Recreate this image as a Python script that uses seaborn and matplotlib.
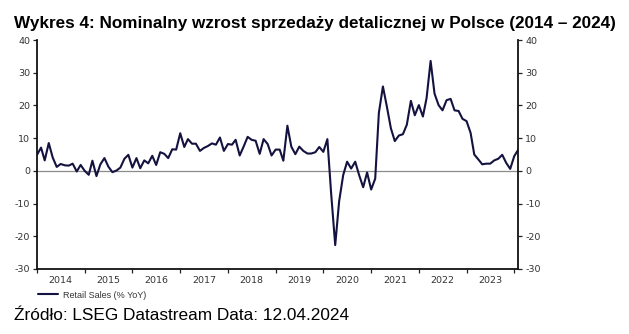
import numpy as np
import pandas as pd
import matplotlib
matplotlib.use("Agg")
import matplotlib.pyplot as plt
import matplotlib.dates as mdates
import seaborn as sns

# ---- data: Retail Sales (% YoY), monthly, Jan 2014 - Feb 2024 ----
vals_2014 = [4.9, 7.1, 3.2, 8.5, 4.1, 1.2, 2.1, 1.7, 1.6, 2.2, -0.2, 1.8]
vals_2015 = [0.0, -1.2, 3.1, -1.6, 2.0, 3.9, 1.3, -0.4, 0.1, 1.0, 3.7, 4.9]
vals_2016 = [1.0, 3.9, 0.8, 3.2, 2.3, 4.6, 1.8, 5.7, 5.2, 3.9, 6.6, 6.5]
vals_2017 = [11.5, 7.3, 9.7, 8.3, 8.3, 6.1, 7.0, 7.6, 8.4, 8.0, 10.2, 6.1]
vals_2018 = [8.2, 8.0, 9.5, 4.7, 7.4, 10.4, 9.5, 9.2, 5.2, 9.7, 8.2, 4.7]
vals_2019 = [6.5, 6.5, 3.1, 13.8, 7.4, 5.1, 7.4, 6.1, 5.3, 5.3, 5.7, 7.3]
vals_2020 = [5.8, 9.7, -7.0, -22.7, -9.3, -1.3, 2.8, 0.7, 2.8, -1.3, -5.0, -0.5]
vals_2021 = [-5.7, -2.4, 17.7, 25.8, 19.7, 13.0, 9.1, 10.8, 11.2, 14.1, 21.4, 17.0]
vals_2022 = [20.1, 16.6, 22.2, 33.6, 23.6, 20.1, 18.5, 21.6, 22.0, 18.5, 18.3, 15.9]
vals_2023 = [15.2, 11.6, 5.0, 3.5, 2.0, 2.2, 2.2, 3.2, 3.7, 4.9, 2.4, 0.6]
vals_2024 = [4.5, 6.5]

start_month = "2014-01-01"
series_name = "Retail Sales (% YoY)"
year_labels = ["2014", "2015", "2016", "2017", "2018", "2019",
               "2020", "2021", "2022", "2023"]
y_ticks = [-30, -20, -10, 0, 10, 20, 30, 40]

title = "Wykres 4: Nominalny wzrost sprzedaży detalicznej w Polsce (2014 – 2024)"
source = "Źródło: LSEG Datastream Data: 12.04.2024"

values = (vals_2014 + vals_2015 + vals_2016 + vals_2017 + vals_2018 +
          vals_2019 + vals_2020 + vals_2021 + vals_2022 + vals_2023 + vals_2024)
dates = pd.date_range(start_month, periods=len(values), freq="MS")
df = pd.DataFrame({"date": dates, "value": values})

# ---- figure ----
sns.set_theme(style="white")
plt.rcParams["font.family"] = ["DejaVu Sans"]
plt.rcParams["axes.unicode_minus"] = False

fig = plt.figure(figsize=(6.29, 3.34), dpi=100)
ax = fig.add_axes([37 / 629, 1 - 269 / 334, (518.3 - 37) / 629, (269 - 40) / 334])

line_color = "#14123f"
sns.lineplot(data=df, x="date", y="value", ax=ax, color=line_color,
             linewidth=1.5, label=series_name, legend=False)
ax.axhline(0, color="#8c8c8c", linewidth=0.9, zorder=0)

ax.set_xlim(dates[0], dates[-1])
ax.set_ylim(-30, 40)
ax.set_xlabel("")
ax.set_ylabel("")

# x axis: ticks at year boundaries, labels mid-year
year_starts = pd.date_range("2014-01-01", "2024-01-01", freq="YS")
ax.set_xticks(year_starts)
ax.set_xticklabels([])
mid_years = [pd.Timestamp(f"{y}-07-01") for y in year_labels]
ax.set_xticks(mid_years, minor=True)
ax.set_xticklabels(year_labels, minor=True)
ax.tick_params(axis="x", which="major", direction="out", length=3, width=0.9,
               color="#222222", bottom=True)
ax.tick_params(axis="x", which="minor", length=0, labelsize=6.8,
               labelcolor="#333333", pad=5)

ax.set_yticks(y_ticks)
ax.tick_params(axis="y", which="major", direction="out", length=3, width=0.9,
               color="#222222", left=True, right=True, labelleft=True,
               labelright=True, labelsize=6.8, labelcolor="#333333", pad=2)

for side in ["left", "right", "bottom"]:
    ax.spines[side].set_visible(True)
    ax.spines[side].set_color("#111111")
    ax.spines[side].set_linewidth(1.3)
ax.spines["top"].set_visible(False)
ax.grid(False)

# legend below axes
handles, labels = ax.get_legend_handles_labels()
leg = fig.legend(handles, labels, loc="center left",
                 bbox_to_anchor=(38 / 629, 1 - 295 / 334), frameon=False,
                 prop={"family": "Liberation Sans", "size": 6.5},
                 handlelength=2.2, handletextpad=0.55, borderaxespad=0,
                 borderpad=0)
for t in leg.get_texts():
    t.set_color("#333333")

fig.text(13.5 / 629, 1 - 28 / 334, title, family="Liberation Sans",
         fontweight="bold", fontsize=12.35, va="baseline", ha="left",
         color="black")
fig.text(13.5 / 629, 1 - 320.5 / 334, source, family="Liberation Sans",
         fontsize=12.4, va="baseline", ha="left", color="black")

fig.savefig("out.png", dpi=100)
